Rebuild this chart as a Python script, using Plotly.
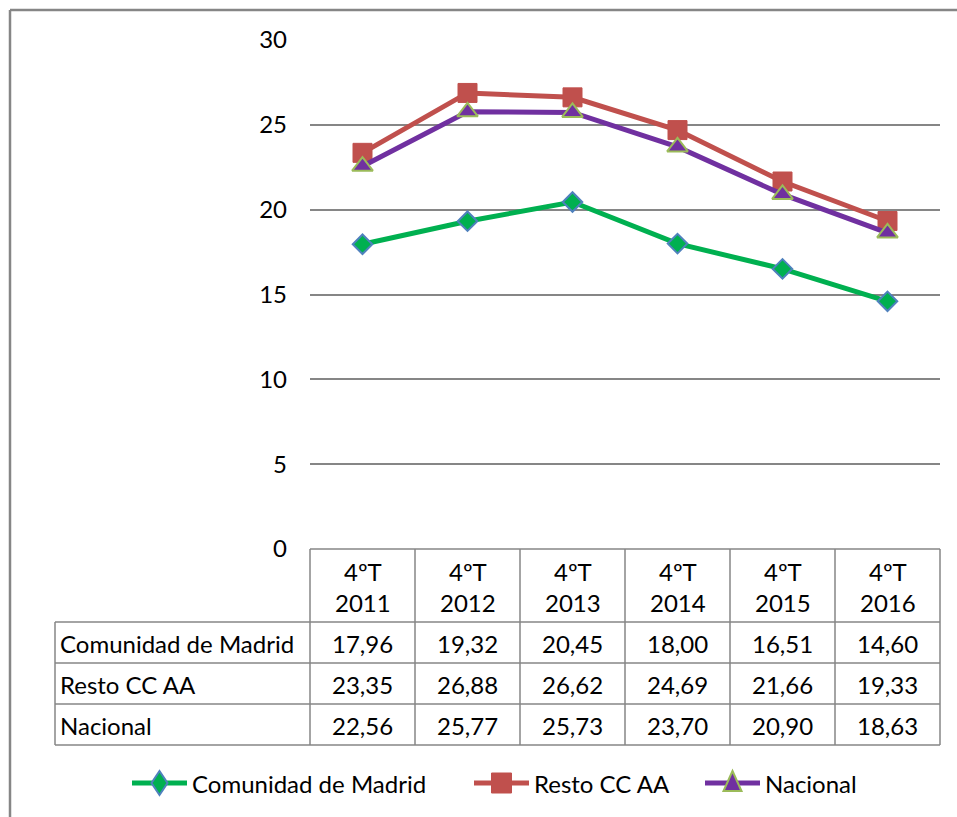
import plotly.graph_objects as go

categories = ["4ºT<br>2011", "4ºT<br>2012", "4ºT<br>2013", "4ºT<br>2014", "4ºT<br>2015", "4ºT<br>2016"]
madrid = [17.96, 19.32, 20.45, 18.00, 16.51, 14.60]
resto = [23.35, 26.88, 26.62, 24.69, 21.66, 19.33]
nacional = [22.56, 25.77, 25.73, 23.70, 20.90, 18.63]
series_names = ["Comunidad de Madrid", "Resto CC AA", "Nacional"]
y_ticks = [0, 5, 10, 15, 20, 25, 30]

# page body margin is removed by a post script, so the figure fills the window
OFF = 0
FW, FH = 957, 817
# plot area in window pixels
L, R, T, B = 310, 940, 40, 549
FONT = "Lato"
FS = 24
GRID = "#868686"

def px_x(p):
    return (p - L) / (R - L)

def px_y(p):
    return (B - p) / (B - T)

colors = ["#00B050", "#C0504D", "#7030A0"]
edges = ["#4F81BD", "#C0504D", "#9BBB59"]
symbols = ["diamond", "square", "triangle-up"]
sizes = [15, 19, 18]

xs = list(range(len(categories)))
fig = go.Figure()
for name, vals, c, e, s, sz in zip(series_names, [madrid, resto, nacional], colors, edges, symbols, sizes):
    fig.add_trace(go.Scatter(x=xs, y=vals, name=name, mode="lines+markers",
                             line=dict(color=c, width=5),
                             marker=dict(symbol=s, size=sz, color=c, line=dict(color=e, width=2 if s != "square" else 1)),
                             cliponaxis=False, showlegend=False))

shapes = []
def hline(y, x0, x1, color=GRID, w=1.5):
    shapes.append(dict(type="line", xref="paper", yref="paper", x0=px_x(x0), x1=px_x(x1),
                       y0=px_y(y), y1=px_y(y), line=dict(color=color, width=w)))
def vline(x, y0, y1, color=GRID, w=1.5):
    shapes.append(dict(type="line", xref="paper", yref="paper", x0=px_x(x), x1=px_x(x),
                       y0=px_y(y0), y1=px_y(y1), line=dict(color=color, width=w)))

# outer border (only top and left edges are visible)
hline(10, 10, OFF + FW, w=2.5)
vline(10, 10, OFF + FH, w=2.5)

header_bottom, row_h = 622, 41
n_rows = 3
table_bottom = header_bottom + n_rows * row_h
col_w = (R - L) / len(categories)
hline(B, L, R)
for i in range(n_rows + 1):
    hline(header_bottom + i * row_h, 55, R)
vline(55, header_bottom, table_bottom)
for i in range(len(categories) + 1):
    vline(L + i * col_w, B, table_bottom)

annotations = []
def txt(x, y, t, anchor="center"):
    annotations.append(dict(x=px_x(x), y=px_y(y), xref="paper", yref="paper", text=t, showarrow=False,
                            font=dict(family=FONT, size=FS, color="black"), xanchor=anchor, yanchor="middle"))

for i, c in enumerate(categories):
    txt(L + (i + 0.5) * col_w, (B + header_bottom) / 2 + 1, c)
for r, (name, vals) in enumerate(zip(series_names, [madrid, resto, nacional])):
    yc = header_bottom + (r + 0.5) * row_h + 1
    txt(58, yc, name, "left")
    for i, v in enumerate(vals):
        txt(L + (i + 0.5) * col_w, yc, f"{v:.2f}".replace(".", ","))

# legend (drawn by hand to match the long Excel-style legend keys)
leg_y = 783
leg_x0 = [132, 474, 705]
key_len = 55
for name, c, e, s, x0 in zip(series_names, colors, edges, symbols, leg_x0):
    hline(leg_y, x0, x0 + key_len, color=c, w=5)
    cx = x0 + key_len / 2
    if s == "diamond":
        pts = [(cx, leg_y - 12), (cx + 8, leg_y), (cx, leg_y + 12), (cx - 8, leg_y)]
        lw = 2
    elif s == "square":
        pts = [(cx - 10, leg_y - 10), (cx + 10, leg_y - 10), (cx + 10, leg_y + 10), (cx - 10, leg_y + 10)]
        lw = 1
    else:
        pts = [(cx, leg_y - 12), (cx + 9, leg_y + 8), (cx - 9, leg_y + 8)]
        lw = 2
    path = "M " + " L ".join(f"{px_x(px)},{px_y(py)}" for px, py in pts) + " Z"
    shapes.append(dict(type="path", xref="paper", yref="paper", path=path, fillcolor=c,
                       line=dict(color=e, width=lw)))
    txt(x0 + key_len + 3, leg_y, name, "left")

fig.update_layout(
    width=FW, height=FH,
    margin=dict(l=L - OFF, r=OFF + FW - R, t=T - OFF, b=OFF + FH - B, pad=0),
    paper_bgcolor="white", plot_bgcolor="white",
    font=dict(family=FONT, size=FS, color="black"),
    xaxis=dict(range=[-0.5, len(categories) - 0.5], showticklabels=False, showgrid=False, zeroline=False,
               showline=False, fixedrange=True),
    yaxis=dict(range=[0, 30], tickvals=y_ticks, showgrid=True, gridcolor=GRID, gridwidth=1.5,
               zeroline=False, showline=False, ticklabelstandoff=22, tickfont=dict(family=FONT, size=FS)),
    showlegend=False,
    shapes=shapes, annotations=annotations,
)
fig.write_html("out.html", config={"displayModeBar": False},
               post_script="document.body.style.margin='0';document.body.style.overflow='hidden';")
